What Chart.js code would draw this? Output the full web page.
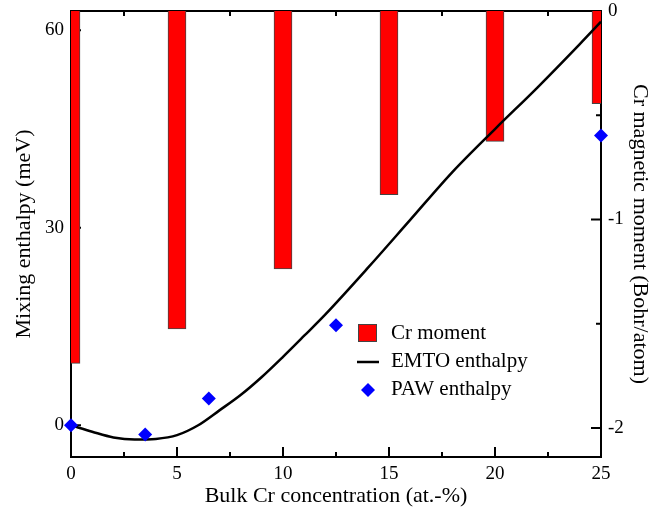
<!DOCTYPE html>
<html>
<head>
<meta charset="utf-8">
<script src="https://cdn.jsdelivr.net/npm/chart.js@4/dist/chart.umd.min.js"></script>
<style>
  html, body { margin: 0; padding: 0; background: #fff; }
  canvas { display: block; }
</style>
</head>
<body>
<canvas id="chart" width="666" height="511"></canvas>
<script>
// Cr magnetic moment per Cr atom (right axis, Bohr/atom)
const momentConc = [0, 5, 10, 15, 20, 25];
const momentValues = [-1.69, -1.525, -1.237, -0.881, -0.625, -0.444];

// EMTO mixing enthalpy (meV)
const emtoConc = [0, 1, 2, 3, 4, 5, 6, 7, 8, 9, 10, 11, 12, 14, 16, 18, 20, 22, 24, 25];
const emtoEnthalpy = [0, -0.98, -1.85, -2.17, -2.07, -1.5, 0.0, 2.26, 4.6, 7.34, 10.4, 13.6, 16.85, 23.9, 31.2, 38.5, 45.0, 51.3, 57.9, 61.3];

// PAW mixing enthalpy (meV)
const pawConc = [0, 3.5, 6.5, 12.5, 25];
const pawEnthalpy = [0, -1.42, 4.06, 15.2, 44.0];

// ticks
const xTicks = [0, 2.5, 5, 7.5, 10, 12.5, 15, 17.5, 20, 22.5, 25];
const xLabels = [0, 5, 10, 15, 20, 25];
const yTicks = [0, 15, 30, 45, 60];
const yLabels = [0, 30, 60];
const y2Ticks = [0, -0.5, -1, -1.5, -2];
const y2Labels = [0, -1, -2];

Chart.defaults.font.family = "'Liberation Serif', 'DejaVu Serif', serif";
Chart.defaults.color = "#000";

const toPoints = (xs, ys) => xs.map((x, i) => ({ x, y: ys[i] }));

// Frame with inward tick marks, like the original plot
const frameAndTicks = {
  id: "frameAndTicks",
  beforeDatasetsDraw(chart) {
    const { ctx, chartArea: a } = chart;
    const { x, y, y2 } = chart.scales;
    ctx.save();
    ctx.strokeStyle = "#000";
    ctx.lineWidth = 2;
    ctx.strokeRect(a.left, a.top, a.right - a.left, a.bottom - a.top);
    ctx.beginPath();
    xTicks.forEach((v) => {
      const px = x.getPixelForValue(v);
      const len = xLabels.includes(v) ? 10 : 5;
      ctx.moveTo(px, a.bottom);
      ctx.lineTo(px, a.bottom - len);
      ctx.moveTo(px, a.top);
      ctx.lineTo(px, a.top + len);
    });
    yTicks.forEach((v) => {
      const py = y.getPixelForValue(v);
      const len = yLabels.includes(v) ? 10 : 5;
      ctx.moveTo(a.left, py);
      ctx.lineTo(a.left + len, py);
    });
    y2Ticks.forEach((v) => {
      const py = y2.getPixelForValue(v);
      const len = y2Labels.includes(v) ? 10 : 5;
      ctx.moveTo(a.right, py);
      ctx.lineTo(a.right - len, py);
    });
    ctx.stroke();
    ctx.restore();
  },
};

// Legend drawn inside the plot area
const insideLegend = {
  id: "insideLegend",
  afterDraw(chart) {
    const { ctx } = chart;
    ctx.save();
    ctx.font = "21px 'Liberation Serif'";
    ctx.textBaseline = "middle";

    ctx.fillStyle = "#ff0000";
    ctx.fillRect(358, 324, 18, 17);
    ctx.strokeStyle = "#444";
    ctx.lineWidth = 1;
    ctx.strokeRect(358.5, 324.5, 18, 17);

    ctx.strokeStyle = "#000";
    ctx.lineWidth = 2.5;
    ctx.beginPath();
    ctx.moveTo(357, 362);
    ctx.lineTo(379, 362);
    ctx.stroke();

    ctx.fillStyle = "#0000ff";
    ctx.beginPath();
    ctx.moveTo(368, 383);
    ctx.lineTo(375, 390);
    ctx.lineTo(368, 397);
    ctx.lineTo(361, 390);
    ctx.closePath();
    ctx.fill();

    ctx.fillStyle = "#000";
    ctx.fillText("Cr moment", 391, 333);
    ctx.fillText("EMTO enthalpy", 391, 361);
    ctx.fillText("PAW enthalpy", 391, 389);
    ctx.restore();
  },
};

// the plot box is fixed: no extra room for overhanging tick labels
const noOverhang = (s) => {
  s.paddingTop = 0;
  s.paddingBottom = 0;
  s.paddingLeft = 0;
  s.paddingRight = 0;
};

const config = {
  data: {
    datasets: [
      {
        type: "scatter",
        label: "PAW enthalpy",
        data: toPoints(pawConc, pawEnthalpy),
        yAxisID: "y",
        pointStyle: "rectRot",
        pointRadius: 7,
        backgroundColor: "#0000ff",
        borderColor: "#0000ff",
        borderWidth: 0,
        clip: false,
      },
      {
        type: "line",
        label: "EMTO enthalpy",
        data: toPoints(emtoConc, emtoEnthalpy),
        yAxisID: "y",
        borderColor: "#000",
        borderWidth: 2.5,
        pointRadius: 0,
        cubicInterpolationMode: "monotone",
        fill: false,
      },
      {
        type: "bar",
        label: "Cr moment",
        data: toPoints(momentConc, momentValues),
        yAxisID: "y2",
        backgroundColor: "#ff0000",
        borderColor: "#444",
        borderWidth: 1,
        borderSkipped: "start",
        barThickness: 18,
        clip: 0,
      },
    ],
  },
  options: {
    responsive: false,
    animation: false,
    layout: { padding: { top: 11, left: 0, right: 0, bottom: 0 } },
    plugins: {
      legend: { display: false },
      tooltip: { enabled: false },
    },
    scales: {
      x: {
        type: "linear",
        position: "bottom",
        min: 0,
        max: 25,
        offset: false,
        afterFit(s) { s.height = 54; noOverhang(s); },
        afterBuildTicks(s) { s.ticks = xTicks.map((v) => ({ value: v })); },
        grid: { display: false, drawTicks: false, offset: false },
        border: { display: false },
        ticks: {
          autoSkip: false,
          maxRotation: 0,
          padding: 6,
          font: { size: 19 },
          callback: (v) => (xLabels.includes(v) ? String(v) : ""),
        },
        title: {
          display: true,
          text: "Bulk Cr concentration (at.-%)",
          font: { size: 22 },
          padding: { top: 0, bottom: 2 },
        },
      },
      y: {
        type: "linear",
        position: "left",
        min: -4.82,
        max: 62.93,
        afterFit(s) { s.width = 71; noOverhang(s); },
        afterBuildTicks(s) { s.ticks = yTicks.map((v) => ({ value: v })); },
        grid: { display: false, drawTicks: false },
        border: { display: false },
        ticks: {
          padding: 7,
          font: { size: 19 },
          callback: (v) => (yLabels.includes(v) ? String(v) : ""),
        },
        title: {
          display: true,
          text: "Mixing enthalpy (meV)",
          font: { size: 22 },
          padding: { top: 11, bottom: 0 },
        },
      },
      y2: {
        type: "linear",
        position: "right",
        min: -2.139,
        max: 0,
        afterFit(s) { s.width = 65; noOverhang(s); },
        afterBuildTicks(s) { s.ticks = y2Ticks.map((v) => ({ value: v })); },
        grid: { display: false, drawTicks: false },
        border: { display: false },
        ticks: {
          padding: 7,
          font: { size: 19 },
          callback: (v) => (y2Labels.includes(v) ? String(v) : ""),
        },
        title: {
          display: true,
          text: "Cr magnetic moment (Bohr/atom)",
          font: { size: 22 },
          padding: { top: 13, bottom: 0 },
        },
      },
    },
  },
  plugins: [frameAndTicks, insideLegend],
};

new Chart(document.getElementById("chart"), config);
</script>
</body>
</html>
